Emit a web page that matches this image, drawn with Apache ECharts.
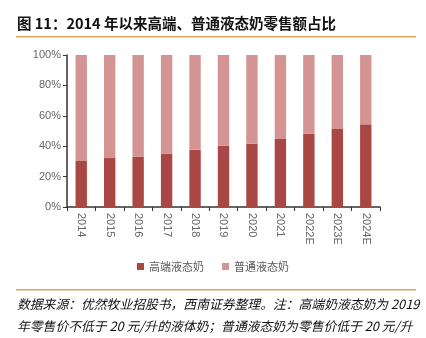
<!DOCTYPE html>
<html><head><meta charset="utf-8">
<script src="https://cdn.jsdelivr.net/npm/echarts@6/dist/echarts.min.js"></script>
<style>html,body{margin:0;padding:0;background:#fff}#c{width:426px;height:338px}</style>
</head><body><div id="c"></div>
<script>
const categories = ['2014','2015','2016','2017','2018','2019','2020','2021','2022E','2023E','2024E'];
const highEnd = [30.3, 32.2, 33.1, 35.1, 37.6, 40.3, 41.7, 44.7, 48.2, 51.3, 54.4];
const regular = highEnd.map(v => +(100 - v).toFixed(1));
const yTicks = [0, 20, 40, 60, 80, 100];
const seriesNames = ['高端液态奶', '普通液态奶'];
const titleText = '图 11：2014 年以来高端、普通液态奶零售额占比';
const note1 = '数据来源：优然牧业招股书，西南证券整理。注：高端奶液态奶为 2019';
const note2 = '年零售价不低于 20 元/升的液体奶；普通液态奶为零售价低于 20 元/升';

const chart = echarts.init(document.getElementById('c'), null, {renderer:'canvas'});
const font = '"Noto Sans CJK SC", "Liberation Sans", sans-serif';
chart.setOption({
  animation: false,
  textStyle: {fontFamily: font},
  grid: {left: 67, right: 46, top: 55, bottom: 131, containLabel: false},
  legend: {
    data: seriesNames, bottom: 61, left: 'center',
    itemWidth: 7, itemHeight: 7, itemGap: 18, icon: 'rect',
    textStyle: {color: '#595959', fontSize: 11, fontFamily: font}
  },
  xAxis: {
    type: 'category', data: categories,
    axisLine: {lineStyle: {color: '#333', width: 1.5}},
    axisTick: {show: true, length: 4, lineStyle: {color: '#333'}},
    axisLabel: {rotate: -90, color: '#666', fontSize: 11, margin: 6, fontFamily: '"Liberation Sans", sans-serif'}
  },
  yAxis: {
    type: 'value', min: 0, max: 100, interval: 20,
    axisLine: {show: true, lineStyle: {color: '#333', width: 1.5}},
    axisTick: {show: true, length: 4, inside: false, lineStyle: {color: '#333'}},
    splitLine: {show: false},
    axisLabel: {color: '#666', fontSize: 11, margin: 6, fontFamily: '"Liberation Sans", sans-serif',
      formatter: v => yTicks.includes(v) ? v + '%' : ''}
  },
  series: [
    {name: seriesNames[0], type: 'bar', stack: 'a', data: highEnd, barWidth: '40%',
     itemStyle: {color: '#A94745'}},
    {name: seriesNames[1], type: 'bar', stack: 'a', data: regular, barWidth: '40%',
     itemStyle: {color: '#D49493'}}
  ],
  graphic: [
    {type: 'text', left: 17, top: 16, style: {text: titleText, font: 'bold 14.5px ' + font, fill: '#111'}},
    {type: 'rect', shape: {x: 16, y: 36, width: 400, height: 1.5}, style: {fill: '#D9A563'}},
    {type: 'rect', shape: {x: 16, y: 289, width: 400, height: 1.5}, style: {fill: '#D9A563'}},
    {type: 'text', left: 17, top: 298, style: {text: note1, font: 'italic 12.8px ' + font, fill: '#111'}},
    {type: 'text', left: 17, top: 320, style: {text: note2, font: 'italic 12.8px ' + font, fill: '#111'}}
  ]
});
</script></body></html>
